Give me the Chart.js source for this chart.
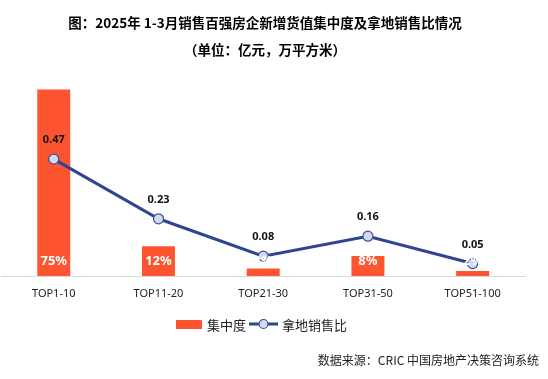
<!DOCTYPE html>
<html><head><meta charset="utf-8">
<script src="https://cdn.jsdelivr.net/npm/chart.js@4/dist/chart.umd.min.js"></script>
<style>
html,body{margin:0;padding:0;background:#fff;}
#wrap{position:relative;width:548px;height:379px;overflow:hidden;background:#fff;}
#c{position:absolute;left:0;top:0;}
.t{position:absolute;left:-9px;width:548px;text-align:center;font-family:"Noto Sans CJK SC";font-weight:bold;color:#000;white-space:nowrap;}
#title{top:12px;font-size:13.5px;line-height:20px;}
#sub{top:39px;font-size:13.5px;line-height:20px;}
#legend{position:absolute;top:314px;left:176px;height:20px;font-family:"Noto Sans CJK SC";font-size:13px;color:#222;display:flex;align-items:center;white-space:nowrap;}
#legend .sw{width:26px;height:9px;background:#fd5530;margin-right:5px;}
#legend svg{margin-left:3px;margin-right:4px;}
#source{position:absolute;right:9px;top:350px;font-family:"Noto Sans CJK SC";font-size:12px;line-height:20px;color:#222;white-space:nowrap;}
</style>
</head><body>
<div id="wrap">
<canvas id="c" width="548" height="379"></canvas>
<div class="t" id="title">图：2025年 1-3月销售百强房企新增货值集中度及拿地销售比情况</div>
<div class="t" id="sub">（单位：亿元，万平方米）</div>
<div id="legend"><span class="sw"></span><span>集中度</span><svg width="29" height="12"><line x1="0" y1="6" x2="29" y2="6" stroke="#2f4592" stroke-width="3"/><circle cx="14.5" cy="6" r="4.5" fill="#d3d9ee" stroke="#3b4f99" stroke-width="1.2"/></svg><span>拿地销售比</span></div>
<div id="source">数据来源：CRIC 中国房地产决策咨询系统</div>
</div>
<script>
const categories = ['TOP1-10', 'TOP11-20', 'TOP21-30', 'TOP31-50', 'TOP51-100'];
const concentration = [75, 12, 3, 8, 2];          // 集中度 (%)
const landSalesRatio = [0.47, 0.23, 0.08, 0.16, 0.05]; // 拿地销售比
const seriesNames = ['集中度', '拿地销售比'];

const labelPlugin = {
  id: 'valueLabels',
  afterDatasetsDraw(chart) {
    const ctx = chart.ctx;
    ctx.save();
    ctx.textAlign = 'center';
    ctx.textBaseline = 'middle';
    const lineMeta = chart.getDatasetMeta(1);
    ctx.fillStyle = '#111';
    ctx.font = 'bold 11px "Noto Sans"';
    lineMeta.data.forEach((pt, i) => {
      ctx.fillText(landSalesRatio[i].toFixed(2), pt.x, pt.y - 19);
    });
    const barMeta = chart.getDatasetMeta(0);
    const base = chart.scales.y.getPixelForValue(0);
    ctx.fillStyle = '#fff';
    ctx.font = 'bold 13px "Noto Sans"';
    barMeta.data.forEach((bar, i) => {
      ctx.fillText(concentration[i] + '%', bar.x, base - 15);
    });
    ctx.restore();
  }
};

new Chart(document.getElementById('c'), {
  data: {
    labels: categories,
    datasets: [
      {
        type: 'bar',
        label: seriesNames[0],
        data: concentration,
        backgroundColor: '#fd5530',
        yAxisID: 'y',
        order: 1,
        barPercentage: 0.315,
        categoryPercentage: 1
      },
      {
        type: 'line',
        label: seriesNames[1],
        data: landSalesRatio,
        borderColor: '#2f4592',
        borderWidth: 3,
        pointRadius: 5,
        pointBackgroundColor: '#d3d9ee',
        pointBorderColor: '#3b4f99',
        pointBorderWidth: 1.2,
        tension: 0,
        yAxisID: 'y1',
        order: 0
      }
    ]
  },
  options: {
    responsive: false,
    animation: false,
    layout: { autoPadding: false, padding: { left: 1.4, right: 23, top: 77, bottom: 67.8 } },
    plugins: { legend: { display: false }, tooltip: { enabled: false }, title: { display: false } },
    scales: {
      x: {
        grid: { display: false, drawTicks: false },
        border: { display: true, color: '#d9d9d9', width: 1 },
        ticks: { color: '#222', font: { family: 'Noto Sans', size: 11 }, padding: 11 }
      },
      y: { display: false, min: 0, max: 80 },
      y1: { display: false, min: 0, max: 0.8 }
    }
  },
  plugins: [labelPlugin]
});
</script>
</body></html>
